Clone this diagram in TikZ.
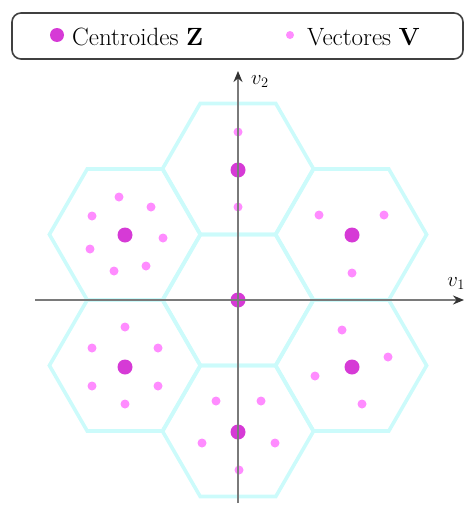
\documentclass[tikz,border=0pt]{standalone}
\usetikzlibrary{arrows.meta}
\definecolor{hexc}{HTML}{CCFBFB}
\definecolor{cent}{HTML}{D63AD6}
\definecolor{vecc}{HTML}{FF8CFF}
\definecolor{axisc}{HTML}{7A7A7A}
\begin{document}
\begin{tikzpicture}[x=1pt,y=-1pt,
  hexline/.style={draw=hexc,line width=3.6pt,line join=miter},
  centdot/.style={circle,fill=cent,inner sep=0,minimum size=15pt},
  vecdot/.style={circle,fill=vecc,inner sep=0,minimum size=9pt},
  axisline/.style={draw=axisc,line width=1.8pt,-{Stealth[length=11pt,width=9pt,color=black!80]}},
  lbl/.style={font=\fontsize{25}{30}\selectfont,inner sep=0},
  axlbl/.style={font=\fontsize{22}{26}\selectfont,inner sep=0},
  legbox/.style={draw=black!75,line width=1.6pt,rounded corners=9pt}]
\useasboundingbox (0,0) rectangle (466,506);
% hexagons
\def\R{75.6}
\def\H{65.5}
\foreach \cx/\cy in {238/300,238/169,238/431,125/234.5,351/234.5,125/365.5,351/365.5}{
  \draw[hexline] (\cx+\R,\cy) -- (\cx+\R/2,\cy-\H) -- (\cx-\R/2,\cy-\H) -- (\cx-\R,\cy)
    -- (\cx-\R/2,\cy+\H) -- (\cx+\R/2,\cy+\H) -- cycle;
}
% centroids
\node[centdot] (z0) at (238,300) {};
\node[centdot] (z1) at (238,170) {};
\node[centdot] (z2) at (238,432) {};
\node[centdot] (z3) at (125,235) {};
\node[centdot] (z4) at (352,235) {};
\node[centdot] (z5) at (125,367) {};
\node[centdot] (z6) at (352,367) {};
% vectors
\foreach \px/\py [count=\i] in {238/132,238/207,
  319/215,384/215,352/273,
  119/197,151/207,92/216,163/238,90/249,114/271,146/266,
  125/327,92/348,158/348,92/386,158/386,125/404,
  342/330,388/357,315/376,362/404,
  216/401,261/401,202/443,275/443,239/470}{
  \node[vecdot] (v\i) at (\px,\py) {};
}
% axes
\coordinate (xs) at (35,300);
\coordinate (xe) at (464,300);
\coordinate (ys) at (238,503);
\coordinate (ye) at (238,71);
\draw[axisline] (xs) -- (xe);
\draw[axisline] (ys) -- (ye);
\node[axlbl,anchor=base west] (lv2) at (251,84) {$v_2$};
\node[axlbl,anchor=base east] (lv1) at (465,286) {$v_1$};
% legend
\node[legbox,minimum width=451pt,minimum height=46pt,inner sep=0] (leg) at (237.5,36) {};
\node[circle,fill=cent,inner sep=0,minimum size=14pt] (lc) at (57,35) {};
\node[lbl,anchor=base west] (lct) at (72,45) {Centroides $\mathbf{Z}$};
\node[circle,fill=vecc,inner sep=0,minimum size=8pt] (lvd) at (290,35) {};
\node[lbl,anchor=base west] (lvt) at (307,45) {Vectores $\mathbf{V}$};
\end{tikzpicture}
\end{document}
